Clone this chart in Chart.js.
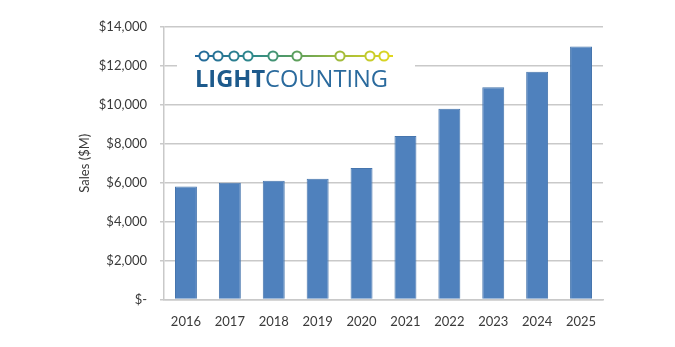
<!DOCTYPE html>
<html>
<head>
<meta charset="utf-8">
<script src="https://cdn.jsdelivr.net/npm/chart.js@4/dist/chart.umd.min.js"></script>
<style>
  html, body { margin: 0; padding: 0; background: #fff; }
  #wrap { width: 675px; height: 347px; }
</style>
</head>
<body>
<div id="wrap"><canvas id="chart" width="675" height="347"></canvas></div>
<script>
// Annual sales, $M
const years = ['2016', '2017', '2018', '2019', '2020', '2021', '2022', '2023', '2024', '2025'];
const sales = [5800, 6000, 6100, 6200, 6750, 8400, 9800, 10900, 11700, 13000];
const yTickValues = [0, 2000, 4000, 6000, 8000, 10000, 12000, 14000];
const yTitle = 'Sales ($M)';

const textColor = '#3a3a3a';
const gridColor = '#c9c9c9';
const baseFont = { family: 'Lato', size: 13 };

function dollarLabel(v) {
  return v === 0 ? '$-' : '$' + v.toLocaleString('en-US');
}

// LightCounting logo in the upper-left of the plot area
const logoPlugin = {
  id: 'lcLogo',
  afterDraw(chart) {
    const ctx = chart.ctx;
    ctx.save();
    ctx.fillStyle = '#ffffff';
    ctx.fillRect(177, 38, 238, 58);

    const x0 = 195, x1 = 393, ly = 56;
    const grad = ctx.createLinearGradient(x0, 0, x1, 0);
    grad.addColorStop(0, '#23679c');
    grad.addColorStop(0.3, '#2f8a8a');
    grad.addColorStop(0.5, '#5a9e5e');
    grad.addColorStop(0.75, '#a6bd3a');
    grad.addColorStop(1, '#e2d81e');
    ctx.strokeStyle = grad;
    ctx.lineWidth = 2;
    ctx.beginPath();
    ctx.moveTo(x0, ly);
    ctx.lineTo(x1, ly);
    ctx.stroke();

    const dots = [204, 218, 234, 248, 273, 297, 340, 370, 384];
    dots.forEach(cx => {
      ctx.beginPath();
      ctx.arc(cx, ly, 4.6, 0, Math.PI * 2);
      ctx.fillStyle = '#ffffff';
      ctx.fill();
      ctx.lineWidth = 2;
      ctx.strokeStyle = grad;
      ctx.stroke();
    });

    // wordmark: bold "LIGHT" + regular "COUNTING"
    const size = 24;
    ctx.textBaseline = 'alphabetic';
    ctx.font = 'bold ' + size + 'px "Open Sans"';
    const w1 = ctx.measureText('LIGHT').width;
    ctx.font = size + 'px "Open Sans"';
    const w2 = ctx.measureText('COUNTING').width;
    const target = 193;
    const sx = target / (w1 + w2);
    ctx.translate(195, 87);
    ctx.scale(sx, 1);
    ctx.fillStyle = '#1d5a8c';
    ctx.font = 'bold ' + size + 'px "Open Sans"';
    ctx.fillText('LIGHT', 0, 0);
    ctx.fillStyle = '#2a6a9d';
    ctx.font = size + 'px "Open Sans"';
    ctx.fillText('COUNTING', w1, 0);
    ctx.restore();
  }
};

new Chart(document.getElementById('chart'), {
  type: 'bar',
  data: {
    labels: years,
    datasets: [{
      label: yTitle,
      data: sales,
      backgroundColor: '#4f81bd',
      borderColor: '#4675ad',
      borderWidth: 1,
      barPercentage: 0.5,
      categoryPercentage: 1.0
    }]
  },
  options: {
    responsive: false,
    animation: false,
    layout: { padding: { left: 77, right: 72, top: 27, bottom: 10 } },
    plugins: {
      legend: { display: false },
      tooltip: { enabled: false }
    },
    scales: {
      x: {
        grid: { display: false },
        border: { display: true, color: gridColor, width: 1.5 },
        ticks: { color: textColor, font: baseFont, padding: 7, maxRotation: 0 }
      },
      y: {
        min: 0,
        max: 14000,
        afterBuildTicks(scale) {
          scale.ticks = yTickValues.map(v => ({ value: v }));
        },
        afterFit(scale) { scale.width = 87; },
        grid: { color: gridColor, lineWidth: 1.5, tickLength: 4 },
        border: { display: true, color: gridColor, width: 1.5 },
        ticks: {
          color: textColor,
          font: baseFont,
          padding: 13,
          callback: v => dollarLabel(v)
        },
        title: {
          display: true,
          text: yTitle,
          color: textColor,
          font: baseFont,
          padding: { top: 0, bottom: 0 }
        }
      }
    }
  },
  plugins: [logoPlugin]
});
</script>
</body>
</html>
